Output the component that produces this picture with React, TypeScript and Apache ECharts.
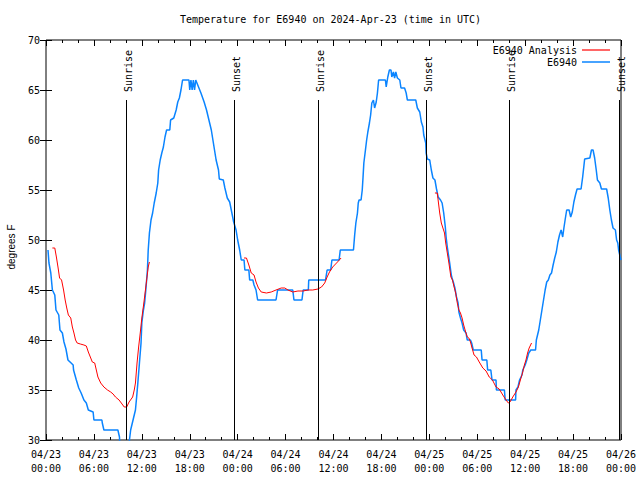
import React, { useEffect, useRef } from "react";
import * as echarts from "echarts";

// Hours since 2024-04-23 00:00 UTC
const observedHours = [
  0.25, 0.37, 0.6, 0.8, 1.1, 1.25, 1.6, 1.75, 2.05, 2.25, 2.5, 2.75, 3.4, 3.45, 3.8, 4.1, 4.4, 4.75, 5.05, 5.3,
  5.9, 6.0, 7.0, 7.05, 7.25, 9.0, 9.2, 9.27, 10.4, 10.45, 10.6, 10.9, 11.2, 11.35, 11.5, 11.7, 11.9, 12.0, 12.2, 12.35,
  12.5, 12.7, 12.8, 12.95, 13.15, 13.35, 13.55, 13.8, 14.0, 14.1, 14.3, 14.5, 14.7, 14.9, 15.1, 15.5, 15.6, 16.0, 16.3, 16.5,
  16.7, 16.9, 17.1, 17.9, 18.0, 18.15, 18.3, 18.45, 18.6, 18.75, 19.0, 19.4, 19.8, 20.1, 20.4, 20.7, 20.9, 21.1, 21.3, 21.6,
  21.7, 22.2, 22.4, 22.7, 23.0, 23.2, 23.5, 23.8, 24.0, 24.25, 24.45, 24.8, 24.9, 25.4, 25.5, 25.9, 26.05, 26.3, 26.5, 28.8,
  29.0, 30.9, 31.05, 32.05, 32.2, 32.85, 32.9, 35.0, 35.2, 35.65, 35.8, 36.7, 36.85, 38.5, 38.65, 38.8, 39.0, 39.1, 39.2, 39.45,
  39.6, 39.7, 39.8, 40.0, 40.15, 40.3, 40.5, 40.65, 40.8, 41.0, 41.15, 41.35, 41.5, 41.65, 42.5, 42.6, 42.8, 43.0, 43.2, 43.3,
  43.5, 43.65, 43.8, 44.0, 44.3, 44.45, 44.9, 45.1, 45.25, 46.3, 46.5, 46.8, 47.0, 47.2, 47.3, 47.55, 47.6, 47.75, 48.05, 48.25,
  48.45, 48.7, 48.9, 49.1, 49.4, 49.6, 49.8, 50.0, 50.1, 50.25, 50.4, 50.55, 50.7, 50.8, 51.0, 51.2, 51.4, 51.6, 51.7, 51.9,
  52.1, 52.3, 52.6, 52.75, 53.15, 53.3, 53.5, 54.5, 54.6, 55.2, 55.3, 55.7, 55.85, 56.35, 56.4, 57.4, 57.5, 58.8, 58.85, 59.1,
  59.3, 59.6, 59.7, 60.0, 60.2, 60.45, 60.7, 61.3, 61.4, 61.7, 61.9, 62.1, 62.3, 62.5, 62.7, 62.9, 63.1, 63.3, 63.5, 63.7,
  63.9, 64.1, 64.3, 64.5, 64.7, 64.85, 65.0, 65.2, 65.5, 65.7, 65.9, 66.1, 66.3, 66.5, 67.0, 67.2, 67.45, 68.1, 68.3, 68.5,
  68.7, 68.9, 69.05, 69.35, 69.55, 70.2, 70.4, 70.6, 70.8, 71.0, 71.3, 71.45, 71.6, 71.7, 71.9, 72.0,
];
const observedTemps = [
  49.0, 47.7, 46.7, 45.0, 44.5, 43.0, 42.5, 41.0, 40.7, 39.8, 39.1, 38.0, 37.5, 37.0, 36.0, 35.2, 34.7, 34.0, 33.7, 33.0,
  32.8, 32.0, 32.0, 31.7, 31.0, 31.0, 30.3, 29.0, 29.0, 30.0, 31.0, 32.0, 33.0, 34.3, 35.7, 37.7, 39.7, 41.7, 43.0, 43.7,
  45.0, 47.0, 49.0, 50.7, 52.0, 52.7, 53.7, 54.7, 55.7, 57.0, 58.0, 58.7, 59.3, 60.3, 61.0, 61.0, 62.0, 62.2, 63.0, 63.8,
  64.2, 65.0, 66.0, 66.0, 65.0, 66.0, 65.0, 66.0, 65.0, 66.0, 65.5, 64.7, 63.8, 63.0, 62.0, 61.0, 60.0, 59.0, 58.0, 57.0,
  56.1, 56.0, 55.2, 54.2, 53.8, 53.0, 51.8, 51.0, 50.0, 49.0, 48.0, 48.0, 47.0, 47.0, 46.0, 46.0, 45.5, 45.0, 44.0, 44.0,
  45.0, 45.0, 44.0, 44.0, 45.0, 45.0, 46.0, 46.0, 47.0, 47.0, 48.0, 48.0, 49.0, 49.0, 50.5, 51.7, 52.7, 53.7, 54.0, 54.0,
  55.0, 56.3, 57.7, 59.0, 60.0, 60.8, 61.7, 62.5, 63.7, 64.0, 63.2, 63.8, 64.7, 66.0, 66.0, 65.3, 66.3, 67.0, 67.0, 66.3,
  66.8, 66.2, 66.8, 66.2, 66.0, 65.2, 65.2, 64.7, 64.0, 64.0, 63.2, 62.8, 61.8, 61.3, 60.5, 59.7, 58.7, 58.1, 58.0, 57.0,
  56.2, 56.0, 55.1, 54.3, 54.0, 53.7, 52.7, 51.3, 50.3, 49.3, 48.5, 47.7, 46.8, 46.3, 45.8, 45.2, 44.3, 43.7, 42.8, 42.2,
  41.7, 41.0, 40.7, 40.0, 40.0, 39.7, 39.0, 39.0, 38.0, 38.0, 37.0, 37.0, 36.0, 36.0, 35.0, 35.0, 34.0, 34.0, 35.0, 35.3,
  36.0, 36.5, 37.0, 37.5, 38.0, 38.7, 39.0, 39.0, 40.0, 41.0, 42.0, 43.0, 44.0, 45.0, 45.8, 46.0, 46.5, 46.7, 47.5, 48.2,
  48.8, 49.8, 50.5, 51.0, 50.3, 51.2, 52.0, 53.0, 53.0, 52.3, 52.8, 53.8, 54.5, 55.1, 55.1, 56.3, 58.1, 58.2, 59.0, 59.0,
  58.2, 57.0, 56.0, 55.7, 55.1, 55.1, 54.2, 53.0, 52.0, 51.2, 51.0, 50.0, 49.7, 49.0, 48.3, 48.0,
];

const analysisHours1 = [0.8, 1.1, 1.3, 1.5, 1.7, 1.95, 2.2, 2.4, 2.6, 2.8, 3.1, 3.3, 3.5, 3.7, 3.9, 4.3, 4.75, 5.05, 5.3, 5.6, 5.8, 6.1, 6.3, 6.5, 6.85, 7.25, 7.7, 8.1, 8.4, 8.7, 9.15, 9.8, 10.1, 10.4, 10.85, 11.05, 11.2, 11.4, 11.6, 11.8, 12.0, 12.25, 12.45, 12.65, 12.8, 12.95];
const analysisTemps1 = [49.2, 49.2, 48.3, 47.3, 46.2, 46.0, 45.0, 44.0, 43.2, 42.5, 42.2, 41.3, 40.7, 40.0, 39.7, 39.6, 39.5, 39.4, 38.8, 38.2, 37.8, 37.7, 37.0, 36.3, 35.7, 35.3, 35.0, 34.8, 34.6, 34.3, 34.0, 33.3, 33.3, 33.8, 34.3, 35.0, 35.7, 37.7, 39.3, 40.7, 42.2, 43.7, 45.0, 46.3, 47.3, 47.8];
const analysisHours2 = [24.8, 25.1, 25.4, 25.7, 26.05, 26.3, 26.6, 26.95, 27.6, 28.2, 28.8, 29.45, 29.9, 30.3, 30.9, 31.55, 32.2, 32.8, 33.4, 34.05, 34.5, 34.9, 35.2, 35.5, 35.9, 36.5, 36.95];
const analysisTemps2 = [48.2, 48.2, 47.5, 46.7, 46.5, 45.8, 45.2, 44.8, 44.7, 44.8, 45.0, 45.2, 45.2, 45.0, 44.8, 44.9, 44.9, 45.0, 45.0, 45.1, 45.3, 45.7, 46.3, 46.8, 47.3, 47.8, 48.2];
const analysisHours3 = [48.7, 49.0, 49.1, 49.3, 49.5, 49.7, 49.9, 50.05, 50.25, 50.45, 50.7, 50.9, 51.1, 51.3, 51.5, 51.7, 51.9, 52.1, 52.3, 52.55, 52.75, 52.95, 53.15, 53.35, 53.6, 53.9, 54.25, 54.7, 55.1, 55.5, 55.9, 56.35, 56.75, 57.2, 57.6, 57.9, 58.1, 58.45, 58.85, 59.15, 59.4, 59.7, 59.9, 60.1, 60.3, 60.5, 60.8];
const analysisTemps3 = [54.7, 54.7, 54.0, 52.7, 51.7, 51.2, 50.7, 49.7, 48.7, 47.7, 46.3, 46.0, 45.3, 44.7, 43.7, 43.0, 42.7, 42.2, 41.5, 40.8, 40.3, 40.2, 39.8, 39.2, 38.5, 38.3, 37.8, 37.2, 36.9, 36.3, 36.0, 35.3, 35.1, 34.5, 34.0, 33.7, 33.8, 34.3, 34.8, 35.3, 36.0, 36.8, 37.5, 38.0, 38.7, 39.2, 39.7];

const sunEventHours = [10.02, 23.58, 34.1, 47.62, 58.01, 71.75];
const sunEventLabels = ["Sunrise", "Sunset", "Sunrise", "Sunset", "Sunrise", "Sunset"];
const dateLabels = ["04/23", "04/24", "04/25", "04/26"];

const MONO = '"DejaVu Sans Mono", "Liberation Mono", monospace';
const RED = "#ff0000";
const BLUE = "#0a84ff";

function zip(h: number[], t: number[]) {
  return h.map((x, i) => [x, t[i]]);
}

export default function App() {
  const ref = useRef<HTMLDivElement>(null);
  useEffect(() => {
    if (!ref.current) return;
    const chart = echarts.init(ref.current, undefined, { renderer: "svg" });
    const analysisData: any[] = [
      ...zip(analysisHours1, analysisTemps1),
      null,
      ...zip(analysisHours2, analysisTemps2),
      null,
      ...zip(analysisHours3, analysisTemps3),
    ];
    const xCommon = {
      type: "value" as const,
      min: 0,
      max: 72,
      interval: 6,
      axisLine: { show: false },
      splitLine: { show: false },
      axisTick: { show: true, inside: true, length: 6, lineStyle: { color: "#000" } },
      minorTick: { show: true, splitNumber: 3, length: 3, lineStyle: { color: "#000" } },
    };
    const yCommon = {
      type: "value" as const,
      min: 30,
      max: 70,
      interval: 5,
      axisLine: { show: false },
      splitLine: { show: false },
      axisTick: { show: true, inside: true, length: 6, lineStyle: { color: "#000" } },
    };
    const legendCommon = {
      right: 30,
      padding: 0,
      align: "right" as const,
      icon: "rect",
      itemWidth: 28,
      textStyle: { fontFamily: MONO, fontSize: 10, color: "#000", lineHeight: 12 },
    };
    chart.setOption({
      animation: false,
      backgroundColor: "#fff",
      title: {
        text: "Temperature for E6940 on 2024-Apr-23 (time in UTC)",
        left: 180,
        top: 14,
        padding: 0,
        textStyle: { fontFamily: MONO, fontSize: 10, fontWeight: "normal", color: "#000" },
      },
      legend: [
        { ...legendCommon, data: ["E6940 Analysis"], top: 44, itemHeight: 1.2 },
        { ...legendCommon, data: ["E6940"], top: 56, itemHeight: 1.5 },
      ],
      grid: {
        left: 46,
        right: 19,
        top: 40,
        bottom: 40,
        show: true,
        borderColor: "#000",
        borderWidth: 1,
        backgroundColor: "transparent",
      },
      xAxis: [
        {
          ...xCommon,
          position: "bottom",
          axisLabel: {
            show: true,
            margin: 7,
            hideOverlap: false,
            showMinLabel: true,
            showMaxLabel: true,
            fontFamily: MONO,
            fontSize: 10,
            color: "#000",
            lineHeight: 14,
            formatter: (v: number) => {
              const d = dateLabels[Math.floor(v / 24)];
              const hh = String(v % 24).padStart(2, "0");
              return `${d}\n${hh}:00`;
            },
          },
        },
        { ...xCommon, position: "top", axisLabel: { show: false } },
      ],
      yAxis: [
        {
          ...yCommon,
          position: "left",
          axisLabel: { margin: 6, fontFamily: MONO, fontSize: 10, color: "#000" },
        },
        { ...yCommon, position: "right", axisLabel: { show: false } },
      ],
      graphic: [
        {
          type: "text",
          x: 11,
          y: 247,
          rotation: Math.PI / 2,
          style: {
            text: "degrees F",
            fill: "#000",
            font: '10px "Liberation Sans", Arial, sans-serif',
            align: "center",
            verticalAlign: "middle",
          },
        },
      ],
      series: [
        {
          name: "E6940 Analysis",
          type: "line",
          xAxisIndex: 0,
          yAxisIndex: 0,
          data: analysisData,
          connectNulls: false,
          symbol: "none",
          color: RED,
          itemStyle: { color: RED },
          lineStyle: { color: RED, width: 1 },
          z: 4,
        },
        {
          name: "E6940",
          type: "line",
          xAxisIndex: 0,
          yAxisIndex: 0,
          data: zip(observedHours, observedTemps),
          symbol: "none",
          color: BLUE,
          itemStyle: { color: BLUE },
          lineStyle: { color: BLUE, width: 1.5 },
          z: 3,
        },
        {
          name: "sun",
          type: "custom",
          xAxisIndex: 0,
          yAxisIndex: 0,
          clip: false,
          z: 5,
          data: sunEventHours.map((h, i) => [h, i]),
          renderItem: (params: any, api: any) => {
            const h = api.value(0);
            const top = api.coord([h, 64]);
            const bot = api.coord([h, 30]);
            const x = Math.round(top[0]) + 0.5;
            return {
              type: "group",
              children: [
                {
                  type: "line",
                  shape: { x1: x, y1: top[1], x2: x, y2: bot[1] },
                  style: { stroke: "#000", lineWidth: 1 },
                },
                {
                  type: "text",
                  x: x + 1.5,
                  y: top[1] - 8,
                  rotation: Math.PI / 2,
                  style: {
                    text: sunEventLabels[params.dataIndex],
                    fill: "#000",
                    font: `10px ${MONO}`,
                    align: "left",
                    verticalAlign: "middle",
                  },
                },
              ],
            };
          },
        },
      ],
    });
    return () => chart.dispose();
  }, []);
  return (
    <div
      ref={ref}
      style={{ position: "fixed", left: 0, top: 0, width: 640, height: 480 }}
    />
  );
}
